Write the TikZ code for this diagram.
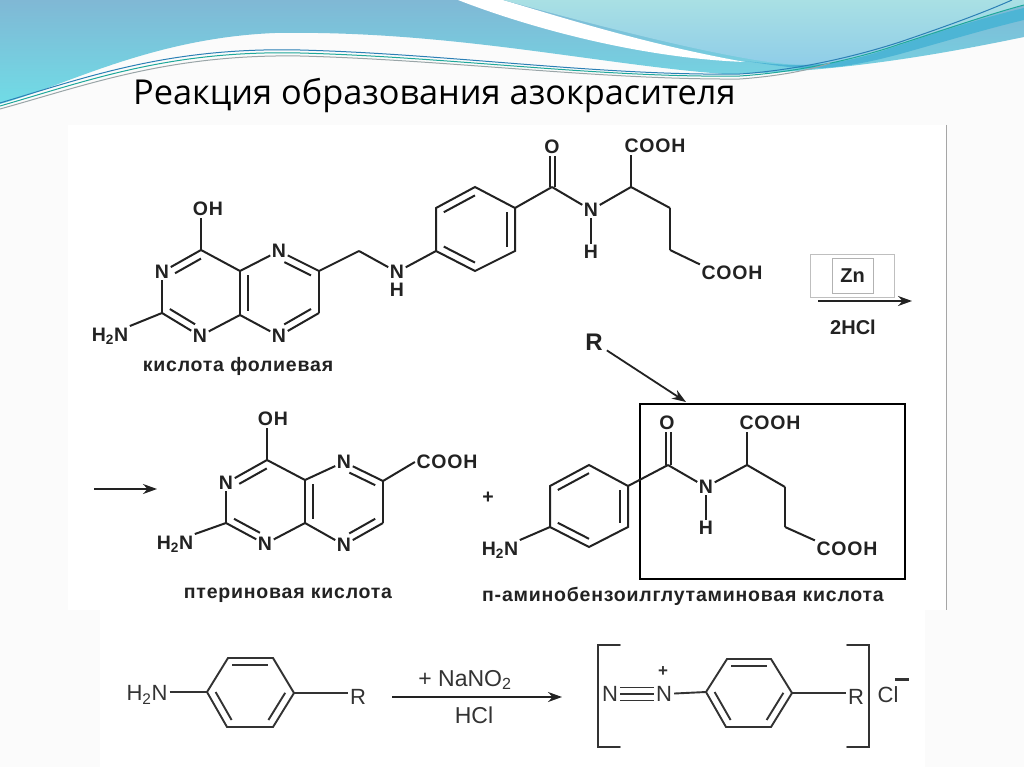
\documentclass[tikz,border=0pt]{standalone}
\usepackage{fontspec}
\setmainfont{Liberation Sans}
\newfontfamily\titlefont{Open Sans}
\newfontfamily\chemfont[LetterSpace=4]{Liberation Sans}
\usetikzlibrary{calc,arrows.meta}
\definecolor{inkcolor}{HTML}{222222}
\definecolor{softink}{HTML}{333333}
\definecolor{headtop}{HTML}{80B8D5}
\definecolor{headlow}{HTML}{70DCE6}
\definecolor{paletop}{HTML}{A9E0E4}
\definecolor{palelow}{HTML}{8FCDE8}
\definecolor{bandblue}{HTML}{4DB5D5}
\definecolor{waveteal}{HTML}{1FA89A}
\definecolor{waveblue}{HTML}{2B7FB5}
\definecolor{wavegray}{HTML}{9AA5A8}
\definecolor{pagegray}{HTML}{FBFBFB}
\tikzstyle{bond} = [draw=inkcolor, line width=2pt]
\tikzstyle{softbond} = [draw=softink, line width=1.9pt]
\tikzstyle{atom} = [inner sep=1.5pt, text=inkcolor, font=\chemfont\bfseries\fontsize{19.5}{20}\selectfont]
\tikzstyle{softatom} = [inner sep=2pt, text=softink, font=\fontsize{22}{22}\selectfont]
\tikzstyle{caption} = [inner sep=0pt, text=inkcolor, font=\chemfont\bfseries\fontsize{19.5}{20}\selectfont]
\tikzstyle{reagent} = [inner sep=0pt, text=inkcolor, font=\bfseries\fontsize{20}{20}\selectfont]
\tikzstyle{arrowline} = [draw=inkcolor, line width=1.8pt, -{Stealth[length=14pt,width=10pt]}]
\tikzstyle{wave} = [line width=1pt]
\newcommand{\innerbond}[4][]{\draw[bond,#1] ($(#2)!.2!(#4)$) -- ($(#3)!.2!(#4)$);}
\newcommand{\softinner}[3]{\draw[softbond] ($(#1)!.2!(#3)$) -- ($(#2)!.2!(#3)$);}

\begin{document}
\begin{tikzpicture}[x=1pt,y=-1pt]
	\useasboundingbox (0,0) rectangle (1024,767);
	\fill[pagegray] (0,0) rectangle (1024,767);
	\fill[white] (68,125) rectangle (946,610);
	\fill[white] (100,610) rectangle (925,767);
	\draw[black!35, line width=1pt] (946,125) -- (946,610);

	\shade[top color=headtop, bottom color=headlow] (0,0) -- (1024,0) -- (1024,37) .. controls (970,48) and (850,73) .. (725,74) .. controls (600,65) and (450,30) .. (275,33) .. controls (150,38) and (60,88) .. (0,104) -- cycle;
	\fill[white] (458,0) .. controls (530,28) and (640,58) .. (745,62) .. controls (650,45) and (570,20) .. (503,0) -- cycle;
	\shade[top color=paletop, bottom color=palelow] (503,0) -- (1024,0) -- (1024,5) .. controls (980,18) and (930,32) .. (900,44) .. controls (870,55) and (840,65) .. (800,65) .. controls (750,63) and (650,40) .. (503,0) -- cycle;
	\fill[bandblue] (745,61) .. controls (770,64) and (785,65) .. (800,65) .. controls (840,65) and (870,55) .. (900,45) .. controls (950,28) and (990,16) .. (1024,8) -- (1024,20) .. controls (990,28) and (950,40) .. (900,54) .. controls (870,62) and (835,70) .. (800,68) .. controls (785,67) and (765,64) .. (745,61) -- cycle;
	\draw[wave,draw=waveblue] (0,103) .. controls (90,76) and (170,47) .. (300,50) .. controls (450,54) and (600,76) .. (740,74) .. controls (800,70) and (860,55) .. (900,42) .. controls (950,25) and (985,12) .. (1012,0);
	\draw[wave,draw=waveteal] (0,106) .. controls (90,80) and (170,50) .. (300,53) .. controls (450,57) and (600,78) .. (740,76) .. controls (800,72) and (860,58) .. (900,44) .. controls (950,28) and (990,14) .. (1024,5);
	\draw[wave,draw=wavegray] (0,109) .. controls (90,84) and (170,54) .. (300,56) .. controls (450,60) and (600,80) .. (740,79) .. controls (780,76) and (810,70) .. (830,63);

	\node[inner sep=0pt, anchor=base west, text=black, font=\titlefont\fontsize{34.3}{35}\selectfont] (TITLE) at (133,105) {Реакция образования азокрасителя};

	\coordinate (C_4A) at (201,250);
	\coordinate (C_2A) at (162,313);
	\coordinate (C_8A) at (240,315);
	\coordinate (C_9A) at (240,271);
	\coordinate (C_6A) at (319,271);
	\coordinate (C_7A) at (319,313);
	\coordinate (CH2_A) at (359,251);
	\coordinate (RING_A1) at (201,293);
	\coordinate (RING_A2) at (279,293);
	\node[atom] (OH_A) at (208,209) {OH};
	\node[atom] (N_3A) at (162,272) {N};
	\node[atom] (N_1A) at (200,336) {N};
	\node[atom] (N_5A) at (279,251) {N};
	\node[atom] (N_8A) at (279,336) {N};
	\node[atom] (H2N_A) at (110,336) {H\textsubscript{2}N};
	\node[atom] (NH_A) at (397,272) {N};
	\node[atom] (H_A) at (397,290) {H};
	\coordinate (B_1) at (436,251);
	\coordinate (B_2) at (436,208);
	\coordinate (B_3) at (475,187);
	\coordinate (B_4) at (515,208);
	\coordinate (B_5) at (515,251);
	\coordinate (B_6) at (475,271);
	\coordinate (RING_B) at (475,229);
	\coordinate (CO_B) at (552,187);
	\coordinate (CH_B) at (631,187);
	\coordinate (C_B1) at (670,208);
	\coordinate (C_B2) at (670,250);
	\node[atom] (O_B) at (552,147) {O};
	\node[atom] (N_B) at (591,210) {N};
	\node[atom] (H_B) at (591,252) {H};
	\node[atom] (COOH_B1) at (655,146) {COOH};
	\node[atom] (COOH_B2) at (732,273) {COOH};
	\node[caption] (NAME_A) at (238,366) {кислота фолиевая};

	\draw[bond] (C_4A) -- (C_4A |- OH_A.south);
	\draw[bond] (C_4A) -- (N_3A);
	\draw[bond] (N_3A) -- (C_2A);
	\draw[bond] (C_2A) -- (N_1A);
	\draw[bond] (N_1A) -- (C_8A);
	\draw[bond] (C_8A) -- (C_9A);
	\draw[bond] (C_9A) -- (C_4A);
	\draw[bond] (C_9A) -- (N_5A);
	\draw[bond] (N_5A) -- (C_6A);
	\draw[bond] (C_6A) -- (C_7A);
	\draw[bond] (C_7A) -- (N_8A);
	\draw[bond] (N_8A) -- (C_8A);
	\draw[bond] (C_2A) -- (H2N_A.north east);
	\draw[bond] (C_6A) -- (CH2_A);
	\draw[bond] (CH2_A) -- (NH_A);
	\draw[bond] (NH_A) -- (B_1);
	\innerbond[shorten <=6pt]{N_3A}{C_4A}{RING_A1}
	\innerbond[shorten >=6pt]{C_2A}{N_1A}{RING_A1}
	\innerbond{C_9A}{C_8A}{RING_A2}
	\innerbond[shorten <=6pt]{N_5A}{C_6A}{RING_A2}
	\innerbond[shorten <=6pt]{N_8A}{C_7A}{RING_A2}
	\draw[bond] (B_1) -- (B_2) -- (B_3) -- (B_4) -- (B_5) -- (B_6) -- cycle;
	\innerbond{B_2}{B_3}{RING_B}
	\innerbond{B_4}{B_5}{RING_B}
	\innerbond{B_6}{B_1}{RING_B}
	\draw[bond] (B_4) -- (CO_B);
	\draw[bond,transform canvas={xshift=-2.5pt}] (CO_B) -- (CO_B |- O_B.south);
	\draw[bond,transform canvas={xshift=2.5pt}] (CO_B) -- (CO_B |- O_B.south);
	\draw[bond] (CO_B) -- (N_B);
	\draw[bond] (N_B) -- (H_B);
	\draw[bond] (N_B) -- (CH_B);
	\draw[bond] (CH_B) -- (CH_B |- COOH_B1.south);
	\draw[bond] (CH_B) -- (C_B1);
	\draw[bond] (C_B1) -- (C_B2);
	\draw[bond] (C_B2) -- (COOH_B2.north west);

	\node[draw=black!25, line width=.8pt, minimum width=84pt, minimum height=43pt, inner sep=0pt] (ZN_OUTER) at (852,275.5) {};
	\node[draw=black!30, line width=.8pt, minimum width=41pt, minimum height=35pt, inner sep=0pt, reagent] (ZN) at (852.5,275.5) {Zn};
	\node[reagent] (HCL_A) at (853,327) {2HCl};
	\coordinate (ARROW_A1) at (818,301);
	\coordinate (ARROW_A2) at (912,301);
	\draw[arrowline] (ARROW_A1) -- (ARROW_A2);
	\node[inner sep=4pt, text=inkcolor, font=\bfseries\fontsize{24}{24}\selectfont] (R_LABEL) at (594,342) {R};
	\node[draw=black, line width=2.5pt, minimum width=265pt, minimum height=175pt, inner sep=0pt] (R_BOX) at (772.5,491.5) {};
	\coordinate (R_TIP) at (686,402);
	\draw[arrowline] (R_LABEL) -- (R_TIP);

	\coordinate (ARROW_B1) at (94,489);
	\coordinate (ARROW_B2) at (157,489);
	\draw[arrowline] (ARROW_B1) -- (ARROW_B2);
	\coordinate (C_4C) at (267,460);
	\coordinate (C_2C) at (226,523);
	\coordinate (C_8C) at (305,523);
	\coordinate (C_9C) at (305,480);
	\coordinate (C_6C) at (383,481);
	\coordinate (C_7C) at (383,523);
	\coordinate (RING_C1) at (266,502);
	\coordinate (RING_C2) at (344,502);
	\node[atom] (OH_C) at (273,419) {OH};
	\node[atom] (N_3C) at (226,483) {N};
	\node[atom] (N_1C) at (265,544) {N};
	\node[atom] (N_5C) at (344,462) {N};
	\node[atom] (N_8C) at (344,545) {N};
	\node[atom] (H2N_C) at (175,544) {H\textsubscript{2}N};
	\node[atom] (COOH_C) at (447,462) {COOH};
	\node[caption] (NAME_C) at (288,595) {птериновая кислота};
	\node[atom] (PLUS) at (488,498) {+};

	\draw[bond] (C_4C) -- (C_4C |- OH_C.south);
	\draw[bond] (C_4C) -- (N_3C);
	\draw[bond] (N_3C) -- (C_2C);
	\draw[bond] (C_2C) -- (N_1C);
	\draw[bond] (N_1C) -- (C_8C);
	\draw[bond] (C_8C) -- (C_9C);
	\draw[bond] (C_9C) -- (C_4C);
	\draw[bond] (C_9C) -- (N_5C);
	\draw[bond] (N_5C) -- (C_6C);
	\draw[bond] (C_6C) -- (C_7C);
	\draw[bond] (C_7C) -- (N_8C);
	\draw[bond] (N_8C) -- (C_8C);
	\draw[bond] (C_2C) -- (H2N_C.north east);
	\draw[bond] (C_6C) -- (COOH_C.west);
	\innerbond[shorten <=6pt]{N_3C}{C_4C}{RING_C1}
	\innerbond[shorten >=6pt]{C_2C}{N_1C}{RING_C1}
	\innerbond{C_9C}{C_8C}{RING_C2}
	\innerbond[shorten <=6pt]{N_5C}{C_6C}{RING_C2}
	\innerbond[shorten <=6pt]{N_8C}{C_7C}{RING_C2}

	\coordinate (D_1) at (550,527);
	\coordinate (D_2) at (550,486);
	\coordinate (D_3) at (589,465);
	\coordinate (D_4) at (628,486);
	\coordinate (D_5) at (628,527);
	\coordinate (D_6) at (589,547);
	\coordinate (RING_D) at (589,506);
	\coordinate (CO_D) at (668,465);
	\coordinate (CH_D) at (747,465);
	\coordinate (C_D1) at (785,487);
	\coordinate (C_D2) at (785,527);
	\node[atom] (H2N_D) at (500,550) {H\textsubscript{2}N};
	\node[atom] (O_D) at (667,423) {O};
	\node[atom] (N_D) at (706,487) {N};
	\node[atom] (H_D) at (706,528) {H};
	\node[atom] (COOH_D1) at (770,423) {COOH};
	\node[atom] (COOH_D2) at (847,549) {COOH};
	\node[caption] (NAME_D) at (683,596) {п-аминобензоилглутаминовая кислота};

	\draw[bond] (D_1) -- (D_2) -- (D_3) -- (D_4) -- (D_5) -- (D_6) -- cycle;
	\innerbond{D_2}{D_3}{RING_D}
	\innerbond{D_4}{D_5}{RING_D}
	\innerbond{D_6}{D_1}{RING_D}
	\draw[bond] (D_1) -- (H2N_D.north east);
	\draw[bond] (D_4) -- (CO_D);
	\draw[bond,transform canvas={xshift=-2.5pt}] (CO_D) -- (CO_D |- O_D.south);
	\draw[bond,transform canvas={xshift=2.5pt}] (CO_D) -- (CO_D |- O_D.south);
	\draw[bond] (CO_D) -- (N_D);
	\draw[bond] (N_D) -- (H_D);
	\draw[bond] (N_D) -- (CH_D);
	\draw[bond] (CH_D) -- (CH_D |- COOH_D1.south);
	\draw[bond] (CH_D) -- (C_D1);
	\draw[bond] (C_D1) -- (C_D2);
	\draw[bond] (C_D2) -- (COOH_D2.north west);

	\coordinate (E_1) at (207,692);
	\coordinate (E_2) at (228,658);
	\coordinate (E_3) at (273,658);
	\coordinate (E_4) at (294,693);
	\coordinate (E_5) at (273,727);
	\coordinate (E_6) at (227,727);
	\coordinate (RING_E) at (250,692);
	\node[softatom] (H2N_E) at (147,695) {H\textsubscript{2}N};
	\node[softatom] (R_E) at (358,697) {R};
	\draw[softbond] (E_1) -- (E_2) -- (E_3) -- (E_4) -- (E_5) -- (E_6) -- cycle;
	\softinner{E_2}{E_3}{RING_E}
	\softinner{E_1}{E_6}{RING_E}
	\softinner{E_4}{E_5}{RING_E}
	\draw[softbond] (H2N_E.east |- E_1) -- (E_1);
	\draw[softbond] (E_4) -- (E_4 -| R_E.west);

	\node[softatom, font=\fontsize{23}{23}\selectfont] (NANO2) at (465,680) {+ NaNO\textsubscript{2}};
	\node[softatom, font=\fontsize{23}{23}\selectfont] (HCL_B) at (474,715) {HCl};
	\coordinate (ARROW_C1) at (392,697);
	\coordinate (ARROW_C2) at (562,697);
	\draw[arrowline] (ARROW_C1) -- (ARROW_C2);

	\coordinate (F_1) at (706,692);
	\coordinate (F_2) at (727,659);
	\coordinate (F_3) at (771,659);
	\coordinate (F_4) at (792,693);
	\coordinate (F_5) at (771,727);
	\coordinate (F_6) at (726,727);
	\coordinate (RING_F) at (749,692);
	\node[softatom] (N_F1) at (610,694) {N};
	\node[softatom] (N_F2) at (664,694) {N};
	\node[softatom, inner sep=0pt, font=\bfseries\fontsize{17}{17}\selectfont] (PLUS_F) at (663,672) {+};
	\node[softatom] (R_F) at (856,697) {R};
	\node[softatom] (CL_F) at (888,695) {Cl};
	\node[inner sep=0pt, minimum width=14pt, minimum height=3pt, fill=softink] (MINUS_F) at (902,679) {};
	\draw[softbond] (N_F1) -- (N_F2);
	\draw[softbond,transform canvas={yshift=-6.5pt}] (N_F1) -- (N_F2);
	\draw[softbond,transform canvas={yshift=6.5pt}] (N_F1) -- (N_F2);
	\draw[softbond] (N_F2) -- (F_1);
	\draw[softbond] (F_1) -- (F_2) -- (F_3) -- (F_4) -- (F_5) -- (F_6) -- cycle;
	\softinner{F_2}{F_3}{RING_F}
	\softinner{F_1}{F_6}{RING_F}
	\softinner{F_4}{F_5}{RING_F}
	\draw[softbond] (F_4) -- (F_4 -| R_F.west);
	\draw[softbond, line cap=round] (620,645) -- (598,645) -- (598,747) -- (620,747);
	\draw[softbond, line cap=round] (847,645) -- (869,645) -- (869,747) -- (847,747);
\end{tikzpicture}
\end{document}
